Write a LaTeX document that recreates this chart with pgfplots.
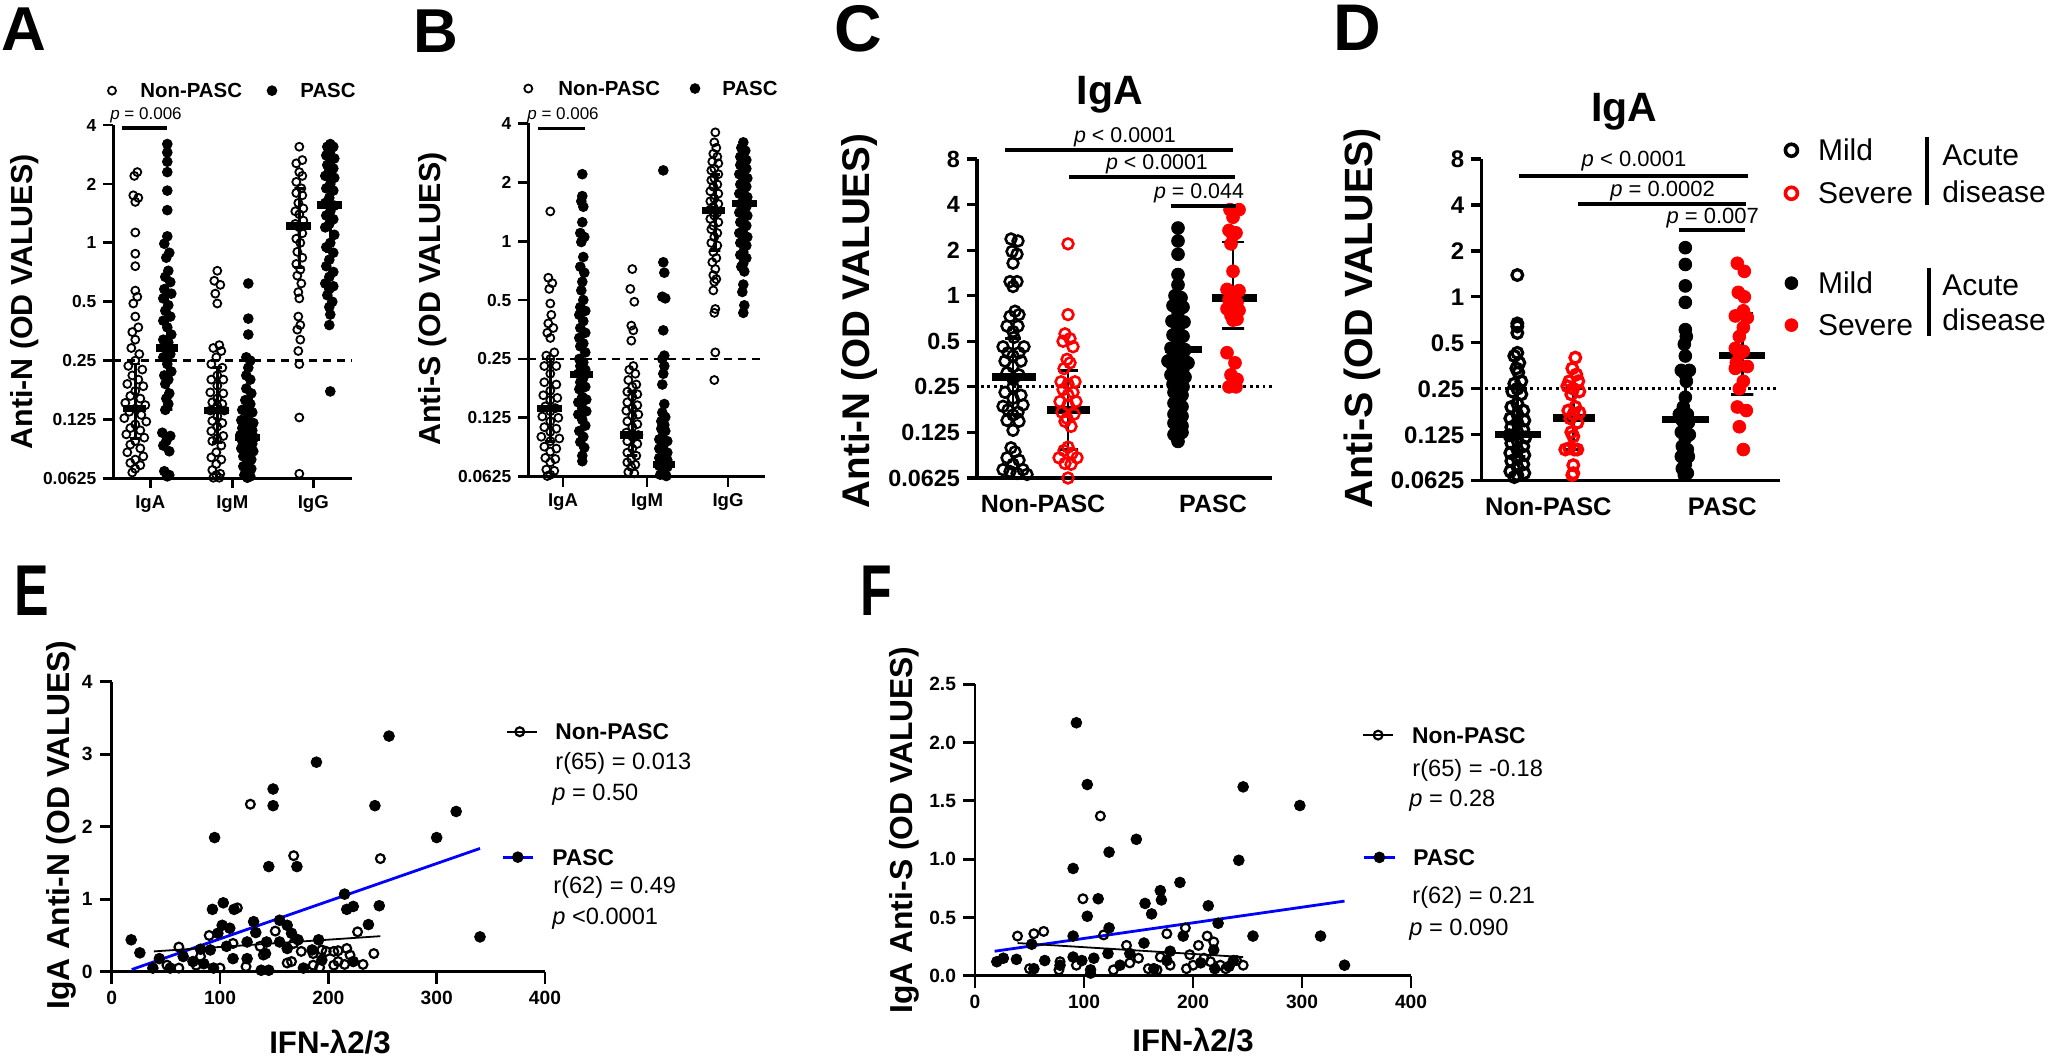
\documentclass[border=0pt]{standalone}
\usepackage{pgfplots}
\pgfplotsset{compat=1.18}
\usepackage{fontspec}
\setmainfont{Liberation Sans}
\definecolor{myred}{RGB}{255,0,0}
\definecolor{myblue}{RGB}{0,0,255}
\newcommand{\fs}[1]{\fontsize{#1}{#1}\selectfont}
\pgfplotsset{
  panelbase/.style={scale only axis, anchor=south west, clip=false,
    axis x line=bottom, axis y line=left,
    axis line style={-, line width=1.4pt},
    tick align=outside, major tick length=5pt,
    every tick/.style={black, line width=1.4pt},
  },
  opnA/.style={only marks, mark=o, mark size=2pt, mark options={line width=0.9pt}, forget plot},
  filA/.style={only marks, mark=*, mark size=2.45pt, forget plot},
  opnC/.style={only marks, mark=o, mark size=2.7pt, mark options={line width=1.3pt}, forget plot},
  filC/.style={only marks, mark=*, mark size=3.2pt, forget plot},
  opnE/.style={only marks, mark=o, mark size=2.2pt, mark options={line width=1.1pt}, forget plot},
  filE/.style={only marks, mark=*, mark size=2.7pt, forget plot},
  med/.style={line width=3.6pt, forget plot, mark=none},
  wh/.style={line width=1.4pt, forget plot, mark=none},
}
\begin{document}
\begin{tikzpicture}
\useasboundingbox (0,0) rectangle (1024pt,530pt);
% ================= Panel A =================
\begin{axis}[panelbase, ymode=log, log basis y=2, at={(56.65pt,290.8pt)}, width=119.15pt, height=176.65pt,
  xmin=0, xmax=238.3, ymin=0.0625, ymax=4,
  xtick={37,119,200}, xticklabels={IgA,IgM,IgG},
  ytick={0.0625,0.125,0.25,0.5,1,2,4}, yticklabels={0.0625,0.125,0.25,0.5,1,2,4},
  yticklabel style={font=\bfseries\fs{8.7}}, xticklabel style={font=\bfseries\fs{9.3}}]
\addplot[black, line width=1.2pt, dash pattern=on 4pt off 3pt, forget plot] coordinates {(0,0.25)(238.3,0.25)};
\addplot[opnA, black] coordinates {(-1.3,6.0)};
\addplot[filA, black] coordinates {(158.7,6.0)};
\addplot[opnA, black] coordinates {(24,2.3)(21,2.2)(20,1.75)(25,1.7)(22,1.62)(22,1.13)(22,0.88)(22,0.76)(22,0.57)(24,0.53)(20,0.49)(22,0.42)(25,0.37)(19,0.35)(22,0.32)(18,0.29)(26,0.27)(22,0.25)(15,0.235)(29,0.225)(19,0.21)(25,0.2)(14,0.19)(30,0.185)(22,0.175)(17,0.165)(27,0.16)(12,0.152)(32,0.148)(22,0.142)(16,0.137)(28,0.132)(11,0.127)(33,0.122)(22,0.118)(17,0.113)(27,0.11)(13,0.105)(31,0.101)(22,0.097)(17,0.093)(27,0.089)(14,0.085)(30,0.081)(22,0.078)(17,0.075)(27,0.073)(22,0.07)(19,0.067)};
\addplot[filA, black] coordinates {(54,3.2)(54,2.9)(54,2.6)(54,2.3)(54,1.85)(54,1.47)(54,1.08)(51,0.99)(56,0.89)(53,0.84)(55,0.72)(52,0.67)(57,0.63)(51,0.58)(58,0.55)(50,0.52)(55,0.48)(52,0.45)(57,0.42)(50,0.40)(54,0.37)(58,0.34)(50,0.32)(55,0.31)(52,0.29)(57,0.27)(50,0.26)(54,0.24)(58,0.22)(51,0.21)(55,0.2)(52,0.19)(56,0.17)(53,0.16)(55,0.15)(52,0.14)(49,0.107)(57,0.103)(53,0.097)(50,0.092)(56,0.086)(51,0.068)(56,0.065)(54,0.064)};
\addplot[opnA, black] coordinates {(104,0.72)(101,0.64)(107,0.61)(102,0.55)(104,0.49)(106,0.30)(100,0.29)(108,0.28)(103,0.26)(98,0.24)(109,0.23)(104,0.21)(98,0.20)(110,0.2)(104,0.186)(97,0.172)(110,0.17)(104,0.16)(99,0.153)(109,0.15)(104,0.147)(97,0.139)(111,0.139)(104,0.13)(99,0.123)(109,0.12)(104,0.115)(98,0.109)(110,0.103)(104,0.1)(99,0.097)(108,0.092)(103,0.085)(98,0.08)(108,0.078)(103,0.074)(99,0.069)(107,0.066)(103,0.065)(100,0.063)(106,0.063)};
\addplot[filA, black] coordinates {(135,0.62)(135,0.41)(135,0.34)(133,0.26)(137,0.25)(135,0.23)(133,0.21)(137,0.2)(133,0.18)(138,0.17)(132,0.157)(137,0.15)(134,0.144)(129,0.14)(139,0.136)(134,0.128)(128,0.124)(140,0.12)(134,0.116)(129,0.113)(139,0.11)(134,0.107)(127,0.104)(141,0.101)(134,0.099)(129,0.097)(139,0.094)(134,0.092)(128,0.089)(140,0.086)(134,0.084)(130,0.081)(138,0.078)(134,0.076)(130,0.072)(138,0.07)(134,0.068)(131,0.065)(137,0.064)(134,0.063)};
\addplot[opnA, black] coordinates {(186,3.1)(189,2.65)(183,2.55)(186,2.3)(189,2.2)(183,2.05)(188,1.9)(183,1.8)(189,1.75)(185,1.6)(190,1.5)(182,1.45)(186,1.4)(190,1.3)(182,1.25)(186,1.2)(189,1.12)(183,1.05)(187,1.0)(184,0.9)(189,0.84)(183,0.78)(187,0.73)(184,0.68)(188,0.62)(185,0.56)(186,0.52)(185,0.42)(187,0.38)(184,0.36)(187,0.32)(185,0.28)(186,0.24)(186,0.128)(186,0.066)};
\addplot[filA, black] coordinates {(217,3.2)(214,3.1)(220,3.1)(217,2.95)(213,2.8)(221,2.7)(217,2.6)(214,2.5)(220,2.4)(216,2.35)(212,2.2)(221,2.15)(217,2.0)(213,1.9)(220,1.85)(216,1.7)(212,1.6)(221,1.55)(217,1.45)(213,1.38)(220,1.32)(216,1.25)(212,1.2)(221,1.1)(217,1.0)(213,0.95)(220,0.89)(216,0.82)(213,0.76)(220,0.71)(216,0.67)(212,0.62)(220,0.6)(216,0.58)(214,0.54)(219,0.5)(216,0.47)(217,0.43)(216,0.38)(217,0.174)};
\addplot[med, black] coordinates {(10,0.142)(33,0.142)};
\addplot[med, black] coordinates {(43,0.29)(65,0.29)};
\addplot[med, black] coordinates {(91,0.139)(116,0.139)};
\addplot[med, black] coordinates {(122,0.101)(147,0.101)};
\addplot[med, black] coordinates {(173,1.22)(198,1.22)};
\addplot[med, black] coordinates {(204,1.56)(229,1.56)};
\addplot[wh, black] coordinates {(17,0.10)(27,0.10)(22,0.10)(22,0.24)(17,0.24)(27,0.24)};
\addplot[wh, black] coordinates {(49,0.14)(59,0.14)(54,0.14)(54,0.55)(49,0.55)(59,0.55)};
\addplot[wh, black] coordinates {(99,0.095)(109,0.095)(104,0.095)(104,0.23)(99,0.23)(109,0.23)};
\addplot[wh, black] coordinates {(130,0.085)(140,0.085)(135,0.085)(135,0.16)(130,0.16)(140,0.16)};
\addplot[wh, black] coordinates {(181,0.75)(191,0.75)(186,0.75)(186,1.9)(181,1.9)(191,1.9)};
\addplot[wh, black] coordinates {(212,0.9)(222,0.9)(217,0.9)(217,2.3)(212,2.3)(222,2.3)};
\end{axis}
% ================= Panel B =================
\begin{axis}[panelbase, ymode=log, log basis y=2, at={(264.15pt,291.65pt)}, width=118.35pt, height=176.65pt,
  xmin=0, xmax=236.7, ymin=0.0625, ymax=4,
  xtick={34.7,118.7,199.7}, xticklabels={IgA,IgM,IgG},
  ytick={0.0625,0.125,0.25,0.5,1,2,4}, yticklabels={0.0625,0.125,0.25,0.5,1,2,4},
  yticklabel style={font=\bfseries\fs{8.7}}, xticklabel style={font=\bfseries\fs{9.3}}]
\addplot[black, line width=1.2pt, dash pattern=on 4pt off 3pt, forget plot] coordinates {(0,0.25)(236.7,0.25)};
\addplot[opnA, black] coordinates {(0,6.03)};
\addplot[filA, black] coordinates {(166.7,6.03)};
\addplot[opnA, black] coordinates {(22,1.42)(20,0.65)(24,0.61)(21,0.57)(22,0.48)(23,0.42)(20,0.38)(25,0.36)(19,0.34)(22,0.32)(26,0.27)(18,0.26)(22,0.25)(16,0.23)(28,0.23)(22,0.21)(16,0.19)(28,0.185)(22,0.172)(15,0.163)(29,0.158)(22,0.154)(17,0.143)(27,0.14)(22,0.135)(14,0.127)(30,0.125)(22,0.12)(16,0.112)(28,0.11)(22,0.106)(13,0.1)(31,0.098)(22,0.095)(16,0.089)(28,0.087)(22,0.084)(17,0.078)(27,0.077)(22,0.074)(18,0.068)(26,0.067)(22,0.064)(19,0.063)};
\addplot[filA, black] coordinates {(54,2.2)(54,1.7)(53,1.6)(55,1.5)(54,1.25)(52,1.1)(56,1.05)(53,0.99)(55,0.83)(52,0.74)(56,0.69)(54,0.62)(53,0.56)(55,0.5)(52,0.46)(57,0.44)(51,0.42)(55,0.39)(52,0.36)(57,0.34)(51,0.32)(55,0.3)(52,0.29)(57,0.27)(51,0.25)(55,0.24)(52,0.23)(57,0.22)(50,0.21)(55,0.2)(52,0.19)(57,0.18)(51,0.175)(54,0.16)(58,0.155)(50,0.15)(54,0.14)(58,0.135)(50,0.13)(54,0.122)(57,0.114)(51,0.107)(55,0.1)(52,0.094)(56,0.088)(54,0.08)(54,0.075)};
\addplot[opnA, black] coordinates {(104,0.72)(102,0.57)(106,0.49)(103,0.37)(105,0.35)(103,0.31)(105,0.23)(101,0.22)(107,0.21)(100,0.195)(108,0.185)(104,0.18)(99,0.17)(109,0.165)(104,0.16)(99,0.15)(109,0.145)(104,0.14)(98,0.136)(110,0.13)(104,0.128)(99,0.12)(109,0.116)(104,0.112)(98,0.105)(110,0.102)(104,0.1)(99,0.095)(109,0.092)(104,0.087)(99,0.083)(108,0.08)(103,0.077)(99,0.074)(107,0.072)(103,0.07)(100,0.066)(106,0.065)};
\addplot[filA, black] coordinates {(135,2.3)(135,0.78)(136,0.69)(134,0.52)(137,0.51)(135,0.35)(136,0.26)(134,0.25)(136,0.23)(135,0.21)(134,0.185)(136,0.147)(134,0.133)(137,0.126)(133,0.12)(136,0.115)(133,0.11)(137,0.107)(134,0.1)(131,0.097)(139,0.095)(135,0.09)(131,0.087)(139,0.083)(135,0.08)(131,0.078)(139,0.076)(135,0.074)(131,0.071)(139,0.07)(135,0.067)(132,0.064)(138,0.063)};
\addplot[opnA, black] coordinates {(187,3.6)(186,3.2)(188,3.0)(185,2.8)(189,2.7)(184,2.55)(190,2.5)(186,2.35)(183,2.3)(190,2.2)(186,2.1)(183,2.05)(189,1.95)(185,1.9)(182,1.8)(190,1.75)(186,1.65)(182,1.6)(190,1.55)(185,1.5)(182,1.45)(189,1.4)(186,1.35)(182,1.3)(190,1.25)(185,1.2)(183,1.15)(189,1.1)(186,1.05)(183,0.98)(189,0.95)(185,0.88)(188,0.82)(184,0.78)(187,0.72)(185,0.67)(188,0.64)(186,0.62)(185,0.56)(187,0.45)(186,0.43)(187,0.27)(186,0.195)};
\addplot[filA, black] coordinates {(215,3.2)(213,3.0)(217,2.9)(215,2.75)(212,2.7)(218,2.6)(215,2.55)(212,2.45)(218,2.35)(215,2.25)(211,2.2)(219,2.1)(215,2.05)(212,1.95)(218,1.9)(215,1.8)(211,1.75)(219,1.68)(215,1.6)(212,1.55)(218,1.5)(215,1.45)(211,1.4)(219,1.35)(215,1.3)(212,1.25)(218,1.2)(215,1.15)(211,1.1)(219,1.05)(215,1.03)(212,0.98)(218,0.95)(215,0.88)(212,0.85)(218,0.82)(215,0.77)(213,0.74)(216,0.7)(215,0.6)(214,0.55)(216,0.47)(215,0.43)};
\addplot[med, black] coordinates {(9,0.139)(34,0.139)};
\addplot[med, black] coordinates {(42,0.209)(65,0.209)};
\addplot[med, black] coordinates {(92,0.102)(115,0.102)};
\addplot[med, black] coordinates {(125,0.072)(147,0.072)};
\addplot[med, black] coordinates {(174,1.43)(197,1.43)};
\addplot[med, black] coordinates {(204,1.56)(229,1.56)};
\addplot[wh, black] coordinates {(17,0.095)(27,0.095)(22,0.095)(22,0.25)(17,0.25)(27,0.25)};
\addplot[wh, black] coordinates {(49,0.13)(59,0.13)(54,0.13)(54,0.45)(49,0.45)(59,0.45)};
\addplot[wh, black] coordinates {(99,0.08)(109,0.08)(104,0.08)(104,0.17)(99,0.17)(109,0.17)};
\addplot[wh, black] coordinates {(130,0.065)(140,0.065)(135,0.065)(135,0.13)(130,0.13)(140,0.13)};
\addplot[wh, black] coordinates {(182,0.9)(192,0.9)(187,0.9)(187,2.2)(182,2.2)(192,2.2)};
\addplot[wh, black] coordinates {(210,1.05)(220,1.05)(215,1.05)(215,2.25)(210,2.25)(220,2.25)};
\end{axis}
% ================= Panel C =================
\begin{axis}[panelbase, ymode=log, log basis y=2, at={(488.5pt,291pt)}, width=147.5pt, height=159.5pt,
  xmin=0, xmax=295, ymin=0.0625, ymax=8,
  xtick={66,236}, xticklabels={Non-PASC,PASC}, xtick style={draw=none},
  ytick={0.0625,0.125,0.25,0.5,1,2,4,8}, yticklabels={0.0625,0.125,0.25,0.5,1,2,4,8},
  yticklabel style={font=\bfseries\fs{11.7}}, xticklabel style={font=\bfseries\fs{12.5}},
  axis line style={-, line width=1.6pt}, every tick/.style={black, line width=1.6pt}]
\addplot[black, line width=1.5pt, dash pattern=on 1.4pt off 1.8pt, forget plot] coordinates {(4,0.25)(295,0.25)};
\addplot[opnC, black] coordinates {(34,2.37)(41,2.3)(35,1.96)(40,1.88)(36,1.64)(33,1.24)(40,1.24)(36,1.15)(38,0.79)(33,0.73)(42,0.75)(30,0.63)(41,0.63)(36,0.58)(37,0.53)(26,0.46)(47,0.46)(31,0.42)(42,0.42)(36,0.40)(28,0.37)(44,0.37)(36,0.34)(30,0.31)(42,0.3)(36,0.28)(36,0.25)(28,0.23)(44,0.22)(36,0.21)(26,0.186)(46,0.19)(31,0.176)(41,0.17)(36,0.163)(30,0.15)(42,0.148)(36,0.129)(34,0.099)(38,0.093)(30,0.085)(42,0.082)(36,0.077)(26,0.071)(46,0.071)(33,0.069)(40,0.067)(50,0.066)};
\addplot[opnC, myred] coordinates {(91,2.2)(91,0.75)(88,0.56)(93,0.52)(86,0.5)(96,0.46)(90,0.38)(93,0.36)(87,0.33)(84,0.27)(98,0.27)(91,0.26)(86,0.24)(96,0.23)(91,0.22)(83,0.2)(99,0.2)(91,0.19)(85,0.17)(97,0.165)(90,0.155)(88,0.148)(94,0.137)(91,0.1)(87,0.095)(95,0.091)(82,0.085)(100,0.085)(88,0.078)(94,0.077)(91,0.0625)};
\addplot[filC, black] coordinates {(201,2.8)(201,2.3)(201,1.88)(201,1.38)(201,1.18)(198,1.0)(204,0.97)(196,0.86)(206,0.84)(201,0.78)(195,0.68)(207,0.67)(201,0.61)(196,0.55)(206,0.54)(201,0.49)(194,0.45)(208,0.44)(201,0.42)(196,0.4)(206,0.39)(191,0.37)(211,0.36)(201,0.355)(196,0.34)(206,0.33)(201,0.31)(194,0.3)(208,0.29)(201,0.28)(196,0.26)(206,0.25)(201,0.24)(197,0.23)(205,0.22)(201,0.21)(197,0.195)(205,0.185)(201,0.176)(197,0.165)(205,0.16)(201,0.15)(197,0.144)(205,0.138)(201,0.13)(205,0.125)(197,0.121)(201,0.109)};
\addplot[filC, myred] coordinates {(253,3.7)(262,3.7)(256,3.3)(252,2.7)(259,2.6)(256,2.5)(254,2.2)(256,1.45)(250,1.1)(262,1.08)(256,1.05)(252,0.94)(260,0.9)(256,0.87)(250,0.82)(262,0.8)(254,0.74)(260,0.7)(256,0.69)(250,0.42)(258,0.36)(254,0.3)(260,0.28)(252,0.25)(259,0.25)};
\addplot[med, black] coordinates {(15,0.29)(59,0.29)};
\addplot[med, black] coordinates {(70,0.176)(113,0.176)};
\addplot[med, black] coordinates {(188,0.44)(225,0.44)};
\addplot[med, black] coordinates {(235,0.966)(280,0.966)};
\addplot[wh, black] coordinates {(28,0.165)(44,0.165)(36,0.165)(36,0.52)(28,0.52)(44,0.52)};
\addplot[wh, black] coordinates {(81,0.096)(101,0.096)(91,0.096)(91,0.32)(81,0.32)(101,0.32)};
\addplot[wh, black] coordinates {(193,0.3)(209,0.3)(201,0.3)(201,0.68)(193,0.68)(209,0.68)};
\addplot[wh, black] coordinates {(245,0.61)(267,0.61)(256,0.61)(256,2.26)(245,2.26)(267,2.26)};
\end{axis}
% ================= Panel D =================
\begin{axis}[panelbase, ymode=log, log basis y=2, at={(740.65pt,289.65pt)}, width=149.1pt, height=160.85pt,
  xmin=0, xmax=298.2, ymin=0.0625, ymax=8,
  xtick={67,241}, xticklabels={Non-PASC,PASC}, xtick style={draw=none},
  ytick={0.0625,0.125,0.25,0.5,1,2,4,8}, yticklabels={0.0625,0.125,0.25,0.5,1,2,4,8},
  yticklabel style={font=\bfseries\fs{12}}, xticklabel style={font=\bfseries\fs{12.7}},
  axis line style={-, line width=1.6pt}, every tick/.style={black, line width=1.6pt}]
\addplot[black, line width=1.5pt, dash pattern=on 1.4pt off 1.8pt, forget plot] coordinates {(4,0.25)(298,0.25)};
\addplot[opnC, black, mark size=3pt, mark options={line width=1.8pt}] coordinates {(310.1,9.13)};
\addplot[opnC, myred, mark size=3pt, mark options={line width=1.8pt}] coordinates {(310.1,4.77)};
\addplot[filC, black] coordinates {(310.1,1.23)};
\addplot[filC, myred] coordinates {(310.1,0.653)};
\addplot[opnC, black, mark options={line width=1.6pt}] coordinates {(36,1.39)(36,0.67)(36,0.64)(36,0.58)(36,0.43)(33,0.41)(38,0.37)(35,0.34)(37,0.32)(40,0.28)(33,0.27)(36,0.25)(31,0.24)(40,0.23)(36,0.2)(30,0.19)(42,0.18)(36,0.17)(29,0.16)(43,0.155)(36,0.15)(30,0.14)(42,0.135)(36,0.13)(28,0.124)(44,0.12)(36,0.115)(30,0.11)(42,0.105)(36,0.1)(29,0.095)(43,0.092)(36,0.088)(30,0.084)(42,0.08)(36,0.077)(29,0.072)(43,0.07)(36,0.068)(33,0.066)};
\addplot[opnC, myred, mark options={line width=1.6pt}] coordinates {(94,0.40)(91,0.34)(95,0.31)(88,0.28)(97,0.28)(86,0.26)(92,0.25)(98,0.24)(90,0.23)(94,0.19)(87,0.18)(98,0.175)(92,0.17)(89,0.16)(96,0.15)(90,0.13)(92,0.122)(88,0.102)(96,0.1)(84,0.1)(93,0.1)(92,0.079)(92,0.07)(91,0.068)};
\addplot[filC, black] coordinates {(204,2.1)(204,1.63)(204,1.18)(204,0.92)(204,0.61)(205,0.55)(203,0.49)(204,0.41)(200,0.33)(208,0.33)(204,0.31)(205,0.28)(204,0.22)(202,0.19)(198,0.17)(206,0.17)(201,0.155)(207,0.15)(204,0.14)(200,0.13)(208,0.125)(204,0.118)(201,0.105)(206,0.1)(200,0.09)(207,0.09)(204,0.08)(201,0.075)(206,0.07)(203,0.068)};
\addplot[filC, myred] coordinates {(256,1.66)(263,1.47)(257,1.07)(263,1.0)(262,0.81)(254,0.75)(266,0.73)(262,0.63)(258,0.55)(254,0.46)(262,0.44)(258,0.42)(255,0.37)(266,0.35)(254,0.34)(262,0.28)(258,0.25)(256,0.19)(265,0.18)(258,0.141)(262,0.1)};
\addplot[med, black] coordinates {(14,0.126)(60,0.126)};
\addplot[med, black] coordinates {(72,0.161)(114,0.161)};
\addplot[med, black] coordinates {(181,0.157)(228,0.157)};
\addplot[med, black] coordinates {(238,0.411)(284,0.411)};
\addplot[wh, black] coordinates {(28,0.09)(44,0.09)(36,0.09)(36,0.25)(28,0.25)(44,0.25)};
\addplot[wh, black] coordinates {(84,0.1)(100,0.1)(92,0.1)(92,0.25)(84,0.25)(100,0.25)};
\addplot[wh, black] coordinates {(196,0.09)(212,0.09)(204,0.09)(204,0.33)(196,0.33)(212,0.33)};
\addplot[wh, black] coordinates {(250,0.228)(272,0.228)(261,0.228)(261,0.785)(250,0.785)(272,0.785)};
\end{axis}
% ================= Panel E =================
\begin{axis}[panelbase, at={(55.85pt,44.15pt)}, width=216.65pt, height=145pt,
  xmin=0, xmax=400, ymin=0, ymax=4, major tick length=6pt,
  xtick={0,100,200,300,400}, xticklabels={0,100,200,300,400},
  ytick={0,1,2,3,4}, yticklabels={0,1,2,3,4},
  tick label style={font=\bfseries\fs{9.6}}]
\addplot[opnE, black] coordinates {(128,2.31)(168,1.60)(248,1.56)(116,0.88)(151,0.56)(227,0.55)(90,0.50)(62,0.34)(205,0.28)(209,0.29)(217,0.32)(198,0.28)(242,0.25)(220,0.23)(140,0.23)(175,0.28)(78,0.09)(62,0.05)(100,0.05)(124,0.07)(162,0.12)(166,0.14)(192,0.06)(215,0.10)(232,0.10)(186,0.25)(194,0.30)(168,0.39)(112,0.39)(137,0.35)(82,0.21)(51,0.09)(209,0.14)(205,0.09)(186,0.09)};
\addplot[filE, black] coordinates {(18,0.44)(26,0.26)(95,1.85)(145,1.45)(149,2.52)(149,2.29)(189,2.89)(256,3.25)(243,2.29)(318,2.21)(300,1.85)(171,1.45)(215,1.07)(217,0.86)(223,0.90)(247,0.91)(340,0.48)(237,0.65)(93,0.86)(103,0.95)(113,0.86)(131,0.69)(102,0.64)(109,0.60)(98,0.53)(133,0.54)(125,0.41)(155,0.71)(162,0.64)(166,0.53)(172,0.44)(143,0.41)(155,0.41)(191,0.44)(106,0.35)(82,0.31)(91,0.30)(142,0.25)(125,0.18)(66,0.21)(44,0.18)(38,0.05)(54,0.05)(85,0.11)(94,0.05)(138,0.02)(145,0.02)(177,0.05)(194,0.16)(223,0.14)(185,0.30)(162,0.32)(112,0.18)(75,0.14)};
\addplot[myblue, line width=1.4pt, forget plot] coordinates {(18.5,0.03)(340,1.70)};
\addplot[black, line width=0.9pt, forget plot] coordinates {(39,0.28)(248,0.49)};
\addplot[black, line width=1pt, forget plot] coordinates {(364.7,3.31)(392.4,3.31)};
\addplot[opnE, black] coordinates {(376.7,3.31)};
\addplot[myblue, line width=1.4pt, forget plot] coordinates {(361,1.58)(388.7,1.58)};
\addplot[filE, black] coordinates {(374.9,1.58)};
\end{axis}
% ================= Panel F =================
\begin{axis}[panelbase, at={(487.5pt,42.15pt)}, width=218pt, height=145.7pt,
  xmin=0, xmax=400, ymin=0, ymax=2.5, major tick length=6pt,
  xtick={0,100,200,300,400}, xticklabels={0,100,200,300,400},
  ytick={0,0.5,1,1.5,2,2.5}, yticklabels={0.0,0.5,1.0,1.5,2.0,2.5},
  tick label style={font=\bfseries\fs{9.6}}]
\addplot[opnE, black] coordinates {(115,1.37)(99,0.66)(39,0.34)(63,0.38)(54,0.36)(118,0.35)(193,0.41)(176,0.36)(213,0.34)(205,0.26)(219,0.29)(139,0.26)(150,0.15)(197,0.18)(77,0.05)(106,0.02)(127,0.05)(167,0.05)(179,0.09)(200,0.09)(225,0.09)(246,0.09)(240,0.13)(210,0.15)(170,0.16)(142,0.11)(194,0.06)(216,0.12)(159,0.06)(93,0.09)(78,0.12)(50,0.06)(230,0.06)};
\addplot[filE, black] coordinates {(93,2.17)(103,1.64)(246,1.62)(298,1.46)(148,1.17)(123,1.06)(242,0.99)(90,0.92)(188,0.80)(170,0.73)(171,0.65)(113,0.66)(156,0.62)(214,0.60)(162,0.53)(103,0.51)(223,0.45)(123,0.41)(255,0.34)(317,0.34)(339,0.09)(90,0.34)(191,0.34)(52,0.27)(20,0.12)(26,0.15)(64,0.13)(38,0.14)(155,0.28)(122,0.19)(142,0.19)(90,0.16)(98,0.13)(109,0.15)(78,0.09)(106,0.05)(133,0.09)(164,0.06)(176,0.13)(179,0.21)(207,0.11)(220,0.06)(233,0.08)(54,0.06)(237,0.13)(219,0.22)};
\addplot[myblue, line width=1.4pt, forget plot] coordinates {(18,0.21)(339,0.64)};
\addplot[black, line width=0.9pt, forget plot] coordinates {(39,0.28)(246,0.16)};
\addplot[black, line width=1pt, forget plot] coordinates {(356,2.064)(383.6,2.064)};
\addplot[opnE, black] coordinates {(369.8,2.064)};
\addplot[myblue, line width=1.4pt, forget plot] coordinates {(356.6,1.015)(385.7,1.015)};
\addplot[filE, black] coordinates {(371,1.015)};
\end{axis}
% ================= Text and annotations (pixel frame) =================
\begin{scope}[yshift=530pt, x=0.5pt, y=-0.5pt, every node/.style={inner sep=0pt}]
\node[font=\bfseries\fs{31}] at (24,29) {A};
\node[font=\bfseries\fs{31}] at (436,31) {B};
\node[font=\bfseries\fs{33}] at (858,29) {C};
\node[font=\bfseries\fs{33}] at (1357,28) {D};
\node at (32,591) {\scalebox{0.72}[1]{\bfseries\fs{36}E}};
\node at (876,591) {\scalebox{0.72}[1]{\bfseries\fs{36}F}};
\node[rotate=90, font=\bfseries\fs{15.2}] at (25,302) {Anti-N (OD VALUES)};
\node[rotate=90, font=\bfseries\fs{15.2}] at (433,299) {Anti-S (OD VALUES)};
\node[rotate=90, font=\bfseries\fs{19.3}] at (860,321) {Anti-N (OD VALUES)};
\node[rotate=90, font=\bfseries\fs{19.7}] at (1362,318) {Anti-S (OD VALUES)};
\node[rotate=90, font=\bfseries\fs{15.9}] at (61,825) {IgA Anti-N (OD VALUES)};
\node[rotate=90, font=\bfseries\fs{15.9}] at (904,830) {IgA Anti-S (OD VALUES)};
\node[font=\bfseries\fs{15.6}] at (330,1042) {IFN-λ2/3};
\node[font=\bfseries\fs{15.6}] at (1193,1040) {IFN-λ2/3};
\node[anchor=west, font=\bfseries\fs{10.2}] at (140,90.6) {Non-PASC};
\node[anchor=west, font=\bfseries\fs{10.2}] at (300,90.6) {PASC};
\node[anchor=west, font=\bfseries\fs{10.2}] at (558,88.6) {Non-PASC};
\node[anchor=west, font=\bfseries\fs{10.2}] at (722,88.6) {PASC};
\node[font=\fs{8.5}] at (146,115) {\textit{p} = 0.006};
\node[font=\fs{8.5}] at (563,115) {\textit{p} = 0.006};
\draw[line width=1.8pt] (122,128) -- (167,128);
\draw[line width=1.8pt] (538,128.5) -- (585,128.5);
\node[anchor=base, font=\bfseries\fs{20.5}] at (1110,105) {IgA};
\node[anchor=base, font=\fs{10.7}] at (1125,143) {\textit{p} < 0.0001};
\node[anchor=base, font=\fs{10.7}] at (1157,170) {\textit{p} < 0.0001};
\node[anchor=base, font=\fs{10.7}] at (1199,199) {\textit{p} = 0.044};
\draw[line width=2pt] (1005,150) -- (1233,150);
\draw[line width=2pt] (1069,177) -- (1235,177);
\draw[line width=2pt] (1171,206) -- (1236,206);
\node[anchor=base, font=\bfseries\fs{20.5}] at (1624,121.7) {IgA};
\node[anchor=base, font=\fs{11}] at (1634,167) {\textit{p} < 0.0001};
\node[anchor=base, font=\fs{11}] at (1662.6,197) {\textit{p} = 0.0002};
\node[anchor=base, font=\fs{11}] at (1712.7,224) {\textit{p} = 0.007};
\draw[line width=2pt] (1518.5,176) -- (1747.5,176);
\draw[line width=2pt] (1578,204) -- (1746,204);
\draw[line width=2pt] (1679,230) -- (1744.7,230);
\node[anchor=west, font=\fs{15}] at (1817.6,150) {Mild};
\node[anchor=west, font=\fs{15}] at (1817.6,193) {Severe};
\draw[line width=2pt] (1927.4,137) -- (1927.4,205);
\node[anchor=west, font=\fs{15}] at (1942,155) {Acute};
\node[anchor=west, font=\fs{15}] at (1942,192) {disease};
\node[anchor=west, font=\fs{15}] at (1817.6,283) {Mild};
\node[anchor=west, font=\fs{15}] at (1817.6,325) {Severe};
\draw[line width=2pt] (1929,268) -- (1929,336);
\node[anchor=west, font=\fs{15}] at (1942,285) {Acute};
\node[anchor=west, font=\fs{15}] at (1942,320) {disease};
\node[anchor=base west, font=\bfseries\fs{11.4}] at (555,740) {Non-PASC};
\node[anchor=base west, font=\fs{11.8}] at (555,770) {r(65) = 0.013};
\node[anchor=base west, font=\fs{11.8}] at (552,800.7) {\textit{p} = 0.50};
\node[anchor=base west, font=\bfseries\fs{11.4}] at (552,865) {PASC};
\node[anchor=base west, font=\fs{11.8}] at (553,893) {r(62) = 0.49};
\node[anchor=base west, font=\fs{11.8}] at (552,924) {\textit{p} <0.0001};
\node[anchor=base west, font=\bfseries\fs{11.4}] at (1411.7,743.3) {Non-PASC};
\node[anchor=base west, font=\fs{11.8}] at (1412,776) {r(65) = -0.18};
\node[anchor=base west, font=\fs{11.8}] at (1409,806.7) {\textit{p} = 0.28};
\node[anchor=base west, font=\bfseries\fs{11.4}] at (1413,865) {PASC};
\node[anchor=base west, font=\fs{11.8}] at (1412,903) {r(62) = 0.21};
\node[anchor=base west, font=\fs{11.8}] at (1409,935) {\textit{p} = 0.090};
\end{scope}
\end{tikzpicture}
\end{document}
